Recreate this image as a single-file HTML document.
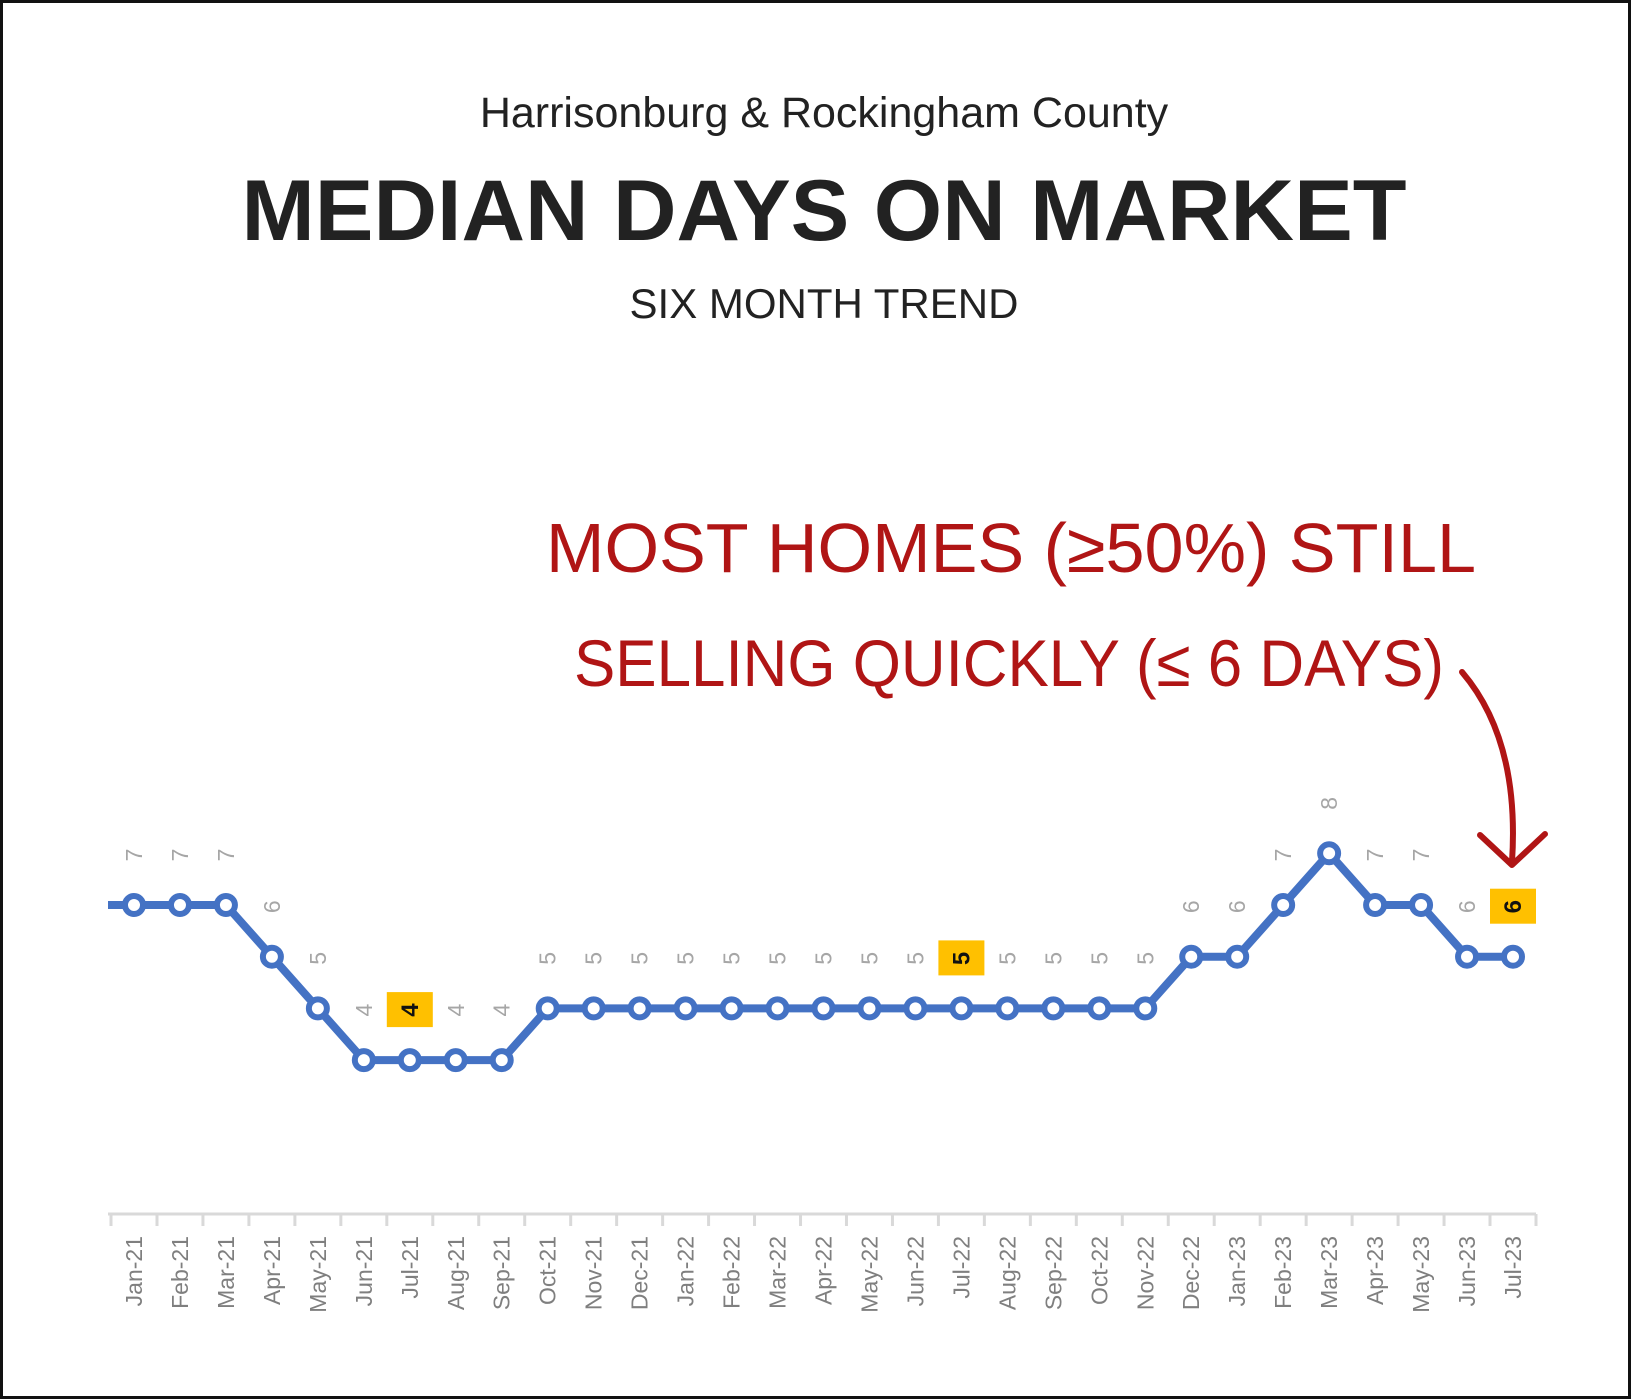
<!DOCTYPE html>
<html><head><meta charset="utf-8"><style>
html,body{margin:0;padding:0;background:#fff}
svg{display:block}
</style></head><body>
<svg id="chart" width="1631" height="1399" viewBox="0 0 1631 1399" xmlns="http://www.w3.org/2000/svg">
<rect x="1.5" y="1.5" width="1628" height="1396" fill="#fff" stroke="#111" stroke-width="3"/>
<text x="824" y="127" text-anchor="middle" font-family="Liberation Sans, sans-serif" font-size="43" fill="#222">Harrisonburg &amp; Rockingham County</text>
<text x="824" y="240" text-anchor="middle" font-family="Liberation Sans, sans-serif" font-weight="bold" font-size="86" fill="#222" textLength="1165" lengthAdjust="spacingAndGlyphs">MEDIAN DAYS ON MARKET</text>
<text x="824" y="318" text-anchor="middle" font-family="Liberation Sans, sans-serif" font-size="42" fill="#222">SIX MONTH TREND</text>
<g fill="#b01515" font-family="Liberation Sans Narrow, Liberation Sans, sans-serif">
<text x="546" y="572" font-size="70" textLength="930" lengthAdjust="spacingAndGlyphs">MOST  HOMES  (≥50%)  STILL</text>
<text x="574" y="686" font-size="66" textLength="870" lengthAdjust="spacingAndGlyphs">SELLING QUICKLY (≤ 6 DAYS)</text>
</g>
<path d="M1462 672 Q1520 740 1512 862 M1480 835 L1512 865 L1545 834" fill="none" stroke="#b01515" stroke-width="6" stroke-linecap="round" stroke-linejoin="round"/>
<g id="plot"></g>
</svg>
<script>
const categories=["Jan-21","Feb-21","Mar-21","Apr-21","May-21","Jun-21","Jul-21","Aug-21","Sep-21","Oct-21","Nov-21","Dec-21","Jan-22","Feb-22","Mar-22","Apr-22","May-22","Jun-22","Jul-22","Aug-22","Sep-22","Oct-22","Nov-22","Dec-22","Jan-23","Feb-23","Mar-23","Apr-23","May-23","Jun-23","Jul-23"];
const values=[7,7,7,6,5,4,4,4,4,5,5,5,5,5,5,5,5,5,5,5,5,5,5,6,6,7,8,7,7,6,6];
const valueLabels=["7","7","7","6","5","4","4","4","4","5","5","5","5","5","5","5","5","5","5","5","5","5","5","6","6","7","8","7","7","6","6"];
const highlighted=["Jul-21","Jul-22","Jul-23"];
const NS="http://www.w3.org/2000/svg";
const plot=document.getElementById('plot');
const x0=134, step=(1513-134)/30;
function xScale(i){return x0+i*step;}
function yScale(v){return 905-(v-7)*51.7;}
function el(t,a){const e=document.createElementNS(NS,t);for(const k in a)e.setAttribute(k,a[k]);plot.appendChild(e);return e;}
// axis
const axis=el('line',{x1:108,y1:1214,x2:1536,y2:1214,stroke:'#d9d9d9','stroke-width':3});


for(let i=0;i<=categories.length;i++){
  const tx=xScale(i)-step/2;
  const t=el('line',{x1:tx,y1:1214,x2:tx,y2:1226,stroke:'#d9d9d9','stroke-width':3});
  
  
}
categories.forEach((c,i)=>{
  const x=xScale(i);
  const t=el('text',{x:0,y:0,transform:`translate(${x+8},1236) rotate(-90)`,'text-anchor':'end','font-family':'Liberation Sans, sans-serif','font-size':23,fill:'#7f7f7f'});
  t.textContent=c;
  
  
});
// line
let d='M108 '+yScale(values[0]);
values.forEach((v,i)=>{d+=' L'+xScale(i)+' '+yScale(v);});
const line=el('path',{d:d,fill:'none',stroke:'#4472c4','stroke-width':8,'stroke-linejoin':'round'});


values.forEach((v,i)=>{
  const x=xScale(i),y=yScale(v);
  const p=el('circle',{cx:x,cy:y,r:9,fill:'#fff',stroke:'#4472c4','stroke-width':6});
  
  
  const hl=highlighted.includes(categories[i]);
  const ly=y-50;
  if(hl){
    const b=el('rect',{x:x-23,y:ly-18,width:46,height:35,fill:'#ffc000'});
    
    
  }
  const t=el('text',{x:0,y:0,transform:`translate(${x+8},${ly}) rotate(-90)`,'text-anchor':'middle','font-family':'Liberation Sans, sans-serif','font-size':hl?24:23,'font-weight':hl?'bold':'normal',fill:hl?'#111':'#a6a6a6'});
  t.textContent=valueLabels[i];
  
  
});
</script>
</body></html>
